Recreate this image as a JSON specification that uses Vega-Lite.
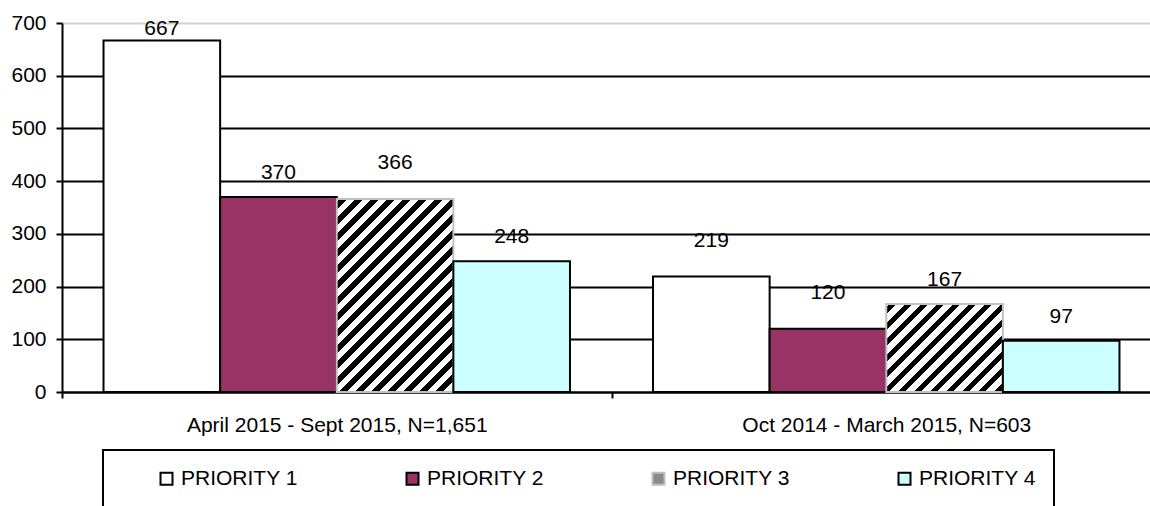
{
  "$schema": "https://vega.github.io/schema/vega-lite/v6.json",
  "autosize": {"type": "none"},
  "padding": {"left": 62, "top": 23, "right": 0, "bottom": 114},
  "width": 1088,
  "height": 369,
  "config": {
    "font": "Liberation Sans",
    "view": {"stroke": null},
    "axis": {
      "labelFont": "Liberation Sans",
      "labelFontSize": 21,
      "labelColor": "black",
      "domainColor": "black",
      "domainWidth": 2,
      "tickColor": "black",
      "tickWidth": 2,
      "tickSize": 6,
      "title": null
    },
    "legend": {
      "labelFont": "Liberation Sans",
      "labelFontSize": 21,
      "labelColor": "black"
    }
  },
  "data": {
    "values": [
      {"period": "April 2015 - Sept 2015, N=1,651", "priority": "PRIORITY 1", "value": 667},
      {"period": "April 2015 - Sept 2015, N=1,651", "priority": "PRIORITY 2", "value": 370},
      {"period": "April 2015 - Sept 2015, N=1,651", "priority": "PRIORITY 3", "value": 366},
      {"period": "April 2015 - Sept 2015, N=1,651", "priority": "PRIORITY 4", "value": 248},
      {"period": "Oct 2014 - March 2015, N=603", "priority": "PRIORITY 1", "value": 219},
      {"period": "Oct 2014 - March 2015, N=603", "priority": "PRIORITY 2", "value": 120},
      {"period": "Oct 2014 - March 2015, N=603", "priority": "PRIORITY 3", "value": 167},
      {"period": "Oct 2014 - March 2015, N=603", "priority": "PRIORITY 4", "value": 97}
    ]
  },
  "encoding": {
    "x": {
      "field": "period",
      "type": "nominal",
      "sort": null,
      "scale": {
        "domain": ["April 2015 - Sept 2015, N=1,651", "Oct 2014 - March 2015, N=603"],
        "range": [0, 1099],
        "paddingInner": 0,
        "paddingOuter": 0
      },
      "axis": {"labelAngle": 0, "labelPadding": 16, "labelLimit": 500, "tickBand": "extent", "grid": false}
    },
    "xOffset": {
      "field": "priority",
      "type": "nominal",
      "scale": {
        "domain": ["PRIORITY 1", "PRIORITY 2", "PRIORITY 3", "PRIORITY 4"],
        "paddingInner": 0,
        "paddingOuter": 0.356
      }
    },
    "y": {
      "field": "value",
      "type": "quantitative",
      "scale": {"domain": [0, 700], "nice": false},
      "axis": {
        "values": [0, 100, 200, 300, 400, 500, 600, 700],
        "labelPadding": 10,
        "grid": true,
        "gridWidth": 2,
        "gridColor": {"condition": {"test": "datum.value === 700", "value": "#d0d0d0"}, "value": "black"}
      }
    }
  },
  "layer": [
    {
      "mark": {"type": "bar", "strokeWidth": 2},
      "encoding": {
        "fill": {
          "field": "priority",
          "type": "nominal",
          "scale": {
            "domain": ["PRIORITY 1", "PRIORITY 2", "PRIORITY 3", "PRIORITY 4"],
            "range": ["#ffffff", "#993366", "#8a8a8a", "#ccffff"]
          },
          "condition": [
            {
              "test": "datum.priority === 'PRIORITY 3' && datum.period === 'April 2015 - Sept 2015, N=1,651'",
              "value": {
                "gradient": "linear", "x1": 0, "y1": 0, "x2": 0.71018, "y2": 1.17514,
                "stops": [
                  {"offset": 0, "color": "white"},
                  {"offset": 0.0100, "color": "white"}, {"offset": 0.0100, "color": "black"}, {"offset": 0.0333, "color": "black"}, {"offset": 0.0333, "color": "white"},
                  {"offset": 0.0617, "color": "white"}, {"offset": 0.0617, "color": "black"}, {"offset": 0.0850, "color": "black"}, {"offset": 0.0850, "color": "white"},
                  {"offset": 0.1134, "color": "white"}, {"offset": 0.1134, "color": "black"}, {"offset": 0.1366, "color": "black"}, {"offset": 0.1366, "color": "white"},
                  {"offset": 0.1651, "color": "white"}, {"offset": 0.1651, "color": "black"}, {"offset": 0.1883, "color": "black"}, {"offset": 0.1883, "color": "white"},
                  {"offset": 0.2168, "color": "white"}, {"offset": 0.2168, "color": "black"}, {"offset": 0.2400, "color": "black"}, {"offset": 0.2400, "color": "white"},
                  {"offset": 0.2685, "color": "white"}, {"offset": 0.2685, "color": "black"}, {"offset": 0.2917, "color": "black"}, {"offset": 0.2917, "color": "white"},
                  {"offset": 0.3201, "color": "white"}, {"offset": 0.3201, "color": "black"}, {"offset": 0.3434, "color": "black"}, {"offset": 0.3434, "color": "white"},
                  {"offset": 0.3718, "color": "white"}, {"offset": 0.3718, "color": "black"}, {"offset": 0.3951, "color": "black"}, {"offset": 0.3951, "color": "white"},
                  {"offset": 0.4235, "color": "white"}, {"offset": 0.4235, "color": "black"}, {"offset": 0.4468, "color": "black"}, {"offset": 0.4468, "color": "white"},
                  {"offset": 0.4752, "color": "white"}, {"offset": 0.4752, "color": "black"}, {"offset": 0.4985, "color": "black"}, {"offset": 0.4985, "color": "white"},
                  {"offset": 0.5269, "color": "white"}, {"offset": 0.5269, "color": "black"}, {"offset": 0.5502, "color": "black"}, {"offset": 0.5502, "color": "white"},
                  {"offset": 0.5786, "color": "white"}, {"offset": 0.5786, "color": "black"}, {"offset": 0.6019, "color": "black"}, {"offset": 0.6019, "color": "white"},
                  {"offset": 0.6303, "color": "white"}, {"offset": 0.6303, "color": "black"}, {"offset": 0.6536, "color": "black"}, {"offset": 0.6536, "color": "white"},
                  {"offset": 0.6820, "color": "white"}, {"offset": 0.6820, "color": "black"}, {"offset": 0.7052, "color": "black"}, {"offset": 0.7052, "color": "white"},
                  {"offset": 0.7337, "color": "white"}, {"offset": 0.7337, "color": "black"}, {"offset": 0.7569, "color": "black"}, {"offset": 0.7569, "color": "white"},
                  {"offset": 0.7854, "color": "white"}, {"offset": 0.7854, "color": "black"}, {"offset": 0.8086, "color": "black"}, {"offset": 0.8086, "color": "white"},
                  {"offset": 0.8370, "color": "white"}, {"offset": 0.8370, "color": "black"}, {"offset": 0.8603, "color": "black"}, {"offset": 0.8603, "color": "white"},
                  {"offset": 0.8887, "color": "white"}, {"offset": 0.8887, "color": "black"}, {"offset": 0.9120, "color": "black"}, {"offset": 0.9120, "color": "white"},
                  {"offset": 0.9404, "color": "white"}, {"offset": 0.9404, "color": "black"}, {"offset": 0.9637, "color": "black"}, {"offset": 0.9637, "color": "white"},
                  {"offset": 1, "color": "white"}
                ]
              }
            },
            {
              "test": "datum.priority === 'PRIORITY 3' && datum.period === 'Oct 2014 - March 2015, N=603'",
              "value": {
                "gradient": "linear", "x1": 0, "y1": 0, "x2": 1.11782, "y2": 0.84393,
                "stops": [
                  {"offset": 0, "color": "white"},
                  {"offset": 0.0150, "color": "white"}, {"offset": 0.0150, "color": "black"}, {"offset": 0.0502, "color": "black"}, {"offset": 0.0502, "color": "white"},
                  {"offset": 0.0932, "color": "white"}, {"offset": 0.0932, "color": "black"}, {"offset": 0.1284, "color": "black"}, {"offset": 0.1284, "color": "white"},
                  {"offset": 0.1714, "color": "white"}, {"offset": 0.1714, "color": "black"}, {"offset": 0.2066, "color": "black"}, {"offset": 0.2066, "color": "white"},
                  {"offset": 0.2496, "color": "white"}, {"offset": 0.2496, "color": "black"}, {"offset": 0.2848, "color": "black"}, {"offset": 0.2848, "color": "white"},
                  {"offset": 0.3278, "color": "white"}, {"offset": 0.3278, "color": "black"}, {"offset": 0.3630, "color": "black"}, {"offset": 0.3630, "color": "white"},
                  {"offset": 0.4060, "color": "white"}, {"offset": 0.4060, "color": "black"}, {"offset": 0.4411, "color": "black"}, {"offset": 0.4411, "color": "white"},
                  {"offset": 0.4841, "color": "white"}, {"offset": 0.4841, "color": "black"}, {"offset": 0.5193, "color": "black"}, {"offset": 0.5193, "color": "white"},
                  {"offset": 0.5623, "color": "white"}, {"offset": 0.5623, "color": "black"}, {"offset": 0.5975, "color": "black"}, {"offset": 0.5975, "color": "white"},
                  {"offset": 0.6405, "color": "white"}, {"offset": 0.6405, "color": "black"}, {"offset": 0.6757, "color": "black"}, {"offset": 0.6757, "color": "white"},
                  {"offset": 0.7187, "color": "white"}, {"offset": 0.7187, "color": "black"}, {"offset": 0.7539, "color": "black"}, {"offset": 0.7539, "color": "white"},
                  {"offset": 0.7969, "color": "white"}, {"offset": 0.7969, "color": "black"}, {"offset": 0.8321, "color": "black"}, {"offset": 0.8321, "color": "white"},
                  {"offset": 0.8751, "color": "white"}, {"offset": 0.8751, "color": "black"}, {"offset": 0.9103, "color": "black"}, {"offset": 0.9103, "color": "white"},
                  {"offset": 0.9533, "color": "white"}, {"offset": 0.9533, "color": "black"}, {"offset": 0.9885, "color": "black"}, {"offset": 0.9885, "color": "white"},
                  {"offset": 1, "color": "white"}
                ]
              }
            }
          ],
          "legend": {
            "orient": "none",
            "legendX": 41,
            "legendY": 427,
            "direction": "horizontal",
            "columns": 4,
            "title": " ",
            "titleOrient": "left",
            "titlePadding": 35,
            "padding": 18,
            "strokeColor": "black",
            "fillColor": "white",
            "symbolType": "square",
            "symbolSize": 144,
            "symbolStrokeWidth": 2,
            "symbolStrokeColor": "black",
            "labelOffset": 4,
            "columnPadding": 104,
            "encode": {
              "legend": {"update": {"strokeWidth": {"value": 2}}},
              "symbols": {
                "update": {
                  "stroke": [
                    {"test": "datum.value === 'PRIORITY 3'", "value": "#c0c0c0"},
                    {"value": "black"}
                  ]
                }
              }
            }
          }
        },
        "stroke": {
          "condition": {"test": "datum.priority === 'PRIORITY 3'", "value": "#c0c0c0"},
          "value": "black"
        }
      }
    },
    {
      "transform": [{"filter": "datum.value === 667"}],
      "mark": {"type": "text", "fontSize": 21, "color": "black", "baseline": "middle", "dy": -11},
      "encoding": {"text": {"field": "value", "type": "quantitative"}}
    },
    {
      "transform": [{"filter": "indexof([366, 219, 120], datum.value) >= 0"}],
      "mark": {"type": "text", "fontSize": 21, "color": "black", "baseline": "middle", "dy": -36},
      "encoding": {"text": {"field": "value", "type": "quantitative"}}
    },
    {
      "transform": [{"filter": "indexof([370, 248, 167, 97], datum.value) >= 0"}],
      "mark": {"type": "text", "fontSize": 21, "color": "black", "baseline": "middle", "dy": -24},
      "encoding": {"text": {"field": "value", "type": "quantitative"}}
    }
  ]
}
